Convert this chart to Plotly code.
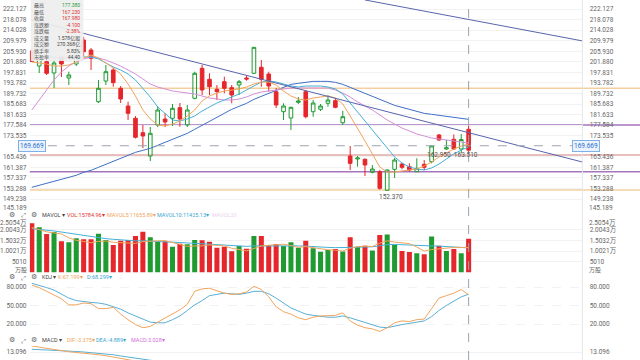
import plotly.graph_objects as go

# ---------------- data ----------------
opens = [206.00, 200.26, 201.91, 197.58, 203.70, 195.66, 201.03, 210.24, 206.40, 186.57,
         194.51, 198.73, 191.71, 184.92, 180.20, 174.68, 165.74, 177.63, 179.93, 180.20,
         184.27, 177.63, 187.87, 199.38, 195.16, 191.33, 194.24, 191.94, 192.97, 195.66,
         197.46, 199.77, 197.19, 190.41, 182.73, 180.32, 186.34, 190.41, 182.73, 183.65,
         185.96, 186.95, 178.51, 165.74, 164.59, 164.47, 159.49, 159.72, 152.60, 160.64,
         162.67, 161.64, 159.72, 162.55, 163.55, 173.80, 168.43, 172.15, 168.43, 175.98]
highs = [207.00, 205.60, 203.33, 202.56, 204.48, 198.08, 207.17, 211.50, 207.17, 194.89,
         200.65, 199.50, 192.59, 186.57, 181.08, 177.63, 176.86, 184.92, 182.22, 185.69,
         186.07, 185.30, 198.08, 200.65, 197.46, 192.97, 196.16, 192.97, 194.89, 196.43,
         207.55, 202.56, 198.08, 191.82, 185.96, 184.65, 188.37, 191.06, 187.22, 185.69,
         189.14, 187.87, 183.12, 169.58, 165.74, 164.86, 162.29, 160.37, 160.60, 164.97,
         163.17, 162.94, 164.86, 164.20, 169.96, 174.18, 171.88, 173.99, 174.18, 177.38]
lows = [201.80, 197.58, 196.81, 191.82, 196.04, 192.97, 200.26, 203.83, 198.73, 186.07,
        192.97, 192.32, 186.07, 179.55, 172.45, 168.81, 163.82, 176.86, 176.86, 177.24,
        176.98, 176.86, 187.49, 189.14, 189.14, 187.22, 189.79, 185.96, 189.14, 194.62,
        197.19, 192.32, 190.41, 184.15, 179.55, 175.71, 185.69, 180.20, 180.81, 183.00,
        184.65, 184.04, 177.63, 160.37, 161.63, 158.07, 159.10, 152.80, 152.37, 157.30,
        160.64, 159.72, 159.72, 160.37, 162.94, 171.50, 168.04, 168.04, 166.78, 167.23]
closes = [202.00, 204.10, 197.46, 201.41, 201.03, 196.81, 205.63, 205.75, 203.22, 191.71,
          198.08, 193.86, 187.61, 182.12, 172.91, 173.41, 174.45, 183.38, 178.78, 184.04,
          179.93, 183.38, 197.46, 191.06, 192.32, 190.41, 191.71, 189.14, 194.24, 195.28,
          207.43, 195.16, 192.59, 185.30, 184.92, 184.42, 186.84, 180.81, 186.07, 184.92,
          187.22, 184.42, 180.81, 162.93, 164.97, 162.29, 160.75, 153.35, 160.37, 164.20,
          161.40, 160.37, 161.02, 161.40, 169.58, 171.88, 168.93, 168.43, 172.08, 167.98]

ma5 = [201.80, 201.41, 201.03, 200.26, 200.26, 200.65, 201.80, 203.33, 204.48, 203.33,
       201.41, 199.50, 197.19, 193.36, 188.76, 183.38, 179.93, 177.63, 177.24, 178.01,
       179.17, 181.08, 183.38, 186.84, 188.76, 189.90, 190.67, 191.06, 191.44, 192.21,
       193.36, 194.12, 194.12, 192.97, 190.67, 188.76, 187.61, 187.22, 187.99, 188.37,
       188.76, 187.99, 185.69, 181.08, 176.48, 171.50, 166.51, 161.52, 159.60, 159.60,
       159.99, 160.37, 160.75, 161.90, 163.44, 165.36, 166.89, 168.43, 169.58, 170.35]
ma10 = [204.10, 204.10, 203.71, 203.71, 203.33, 203.33, 203.33, 203.71, 203.71, 202.95,
        201.41, 199.88, 198.73, 197.19, 194.89, 191.82, 188.37, 184.54, 181.85, 179.55,
        179.17, 179.93, 181.08, 183.00, 184.54, 186.07, 187.22, 188.37, 189.52, 191.06,
        192.59, 194.12, 194.51, 194.12, 193.36, 192.59, 192.21, 192.59, 192.59, 192.59,
        192.21, 191.44, 189.52, 186.07, 182.62, 179.17, 175.71, 171.88, 168.43, 165.36,
        163.05, 161.52, 160.75, 160.37, 161.14, 162.67, 164.59, 166.51, 168.04, 169.19]
ma20 = [183.38, 187.22, 191.06, 194.89, 197.96, 200.26, 201.80, 202.95, 203.71, 203.33,
        202.56, 201.41, 200.26, 198.73, 197.19, 195.28, 193.36, 192.21, 191.44, 190.67,
        190.29, 189.90, 189.52, 188.76, 187.99, 187.61, 187.22, 187.22, 187.61, 188.37,
        189.52, 190.29, 190.67, 191.06, 191.44, 191.82, 191.82, 191.82, 191.82, 191.82,
        191.82, 191.06, 189.90, 188.37, 186.45, 184.92, 183.38, 181.47, 179.55, 178.01,
        176.48, 175.33, 174.18, 173.41, 172.65, 172.26, 171.88, 171.50, 171.11, 170.73]
ma60 = [153.73, 154.50, 155.27, 156.03, 156.80, 157.57, 158.33, 159.48, 160.25, 161.40,
        162.55, 163.70, 164.85, 166.00, 167.15, 167.92, 168.68, 169.83, 170.98, 172.13,
        173.28, 174.43, 175.97, 177.50, 179.03, 180.57, 182.10, 183.64, 184.79, 185.94,
        187.47, 188.62, 189.77, 190.92, 192.07, 193.22, 193.61, 193.99, 194.37, 194.37,
        194.37, 193.99, 193.22, 192.07, 190.92, 189.77, 188.62, 187.47, 186.32, 185.17,
        184.40, 183.64, 182.87, 182.10, 181.72, 181.33, 180.95, 180.57, 180.18, 179.80]

volume = [22990, 21120, 17980, 18920, 14560, 14100, 15970, 15500, 15500, 18120,
          15170, 12830, 14850, 15170, 17050, 19060, 16440, 14380, 14560, 12040,
          13440, 13160, 15170, 15030, 14380, 11570, 12040, 9880, 12360, 11100,
          17050, 17050, 12690, 13300, 12360, 14100, 11570, 14850, 11290, 9690,
          10500, 11000, 9800, 16500, 12000, 12500, 10200, 17500, 17800, 13000,
          10000, 9500, 9000, 8500, 16800, 12500, 10000, 11000, 9000, 15785]
mavol5 = [21000, 20000, 19000, 18500, 18000, 16200, 15000, 14500, 13900, 14500,
          14700, 14100, 14000, 13800, 13600, 14400, 14700, 14800, 14900, 14000,
          12900, 12200, 12400, 12400, 12900, 12600, 12400, 11300, 10700, 10100,
          11200, 12400, 12700, 13000, 13200, 12600, 11700, 12100, 11500, 11000,
          10600, 10400, 10000, 11300, 12000, 12300, 12100, 13700, 14800, 14200,
          13700, 13500, 11900, 10000, 10700, 11100, 11300, 11700, 11700, 11656]
mavol10 = [20500, 20200, 19800, 19400, 18900, 18400, 17800, 17200, 16600, 16200,
           15800, 15500, 15200, 15000, 14800, 14800, 14700, 14600, 14400, 14200,
           14000, 13800, 13600, 13400, 13200, 13000, 12800, 12500, 12300, 12200,
           12400, 12500, 12500, 12400, 12400, 12500, 12400, 12300, 12000, 11800,
           11700, 11600, 11500, 11700, 11800, 11900, 12000, 12500, 13000, 13100,
           12900, 12800, 12500, 12300, 12400, 12300, 12200, 12000, 11700, 11425]

k_vals = [83, 79, 73, 67, 61, 51, 51, 54, 53, 45, 45, 47, 36, 27, 19, 14, 16, 23, 30, 37,
          43, 52, 73, 77, 78, 74, 70, 68, 69, 72, 81, 76, 64, 48, 40, 36, 30, 27, 31, 33,
          33, 34, 38, 25, 18, 14, 12, 8, 14, 22, 25, 24, 27, 28, 45, 62, 66, 70, 76, 67.199]
d_vals = [86, 83, 79, 75, 69, 62, 58, 56, 55, 54, 52, 48, 44, 38, 33, 27, 23, 22, 22, 27,
          33, 42, 51, 58, 66, 68, 70, 69, 68, 70, 73, 73, 69, 62, 54, 46, 41, 36, 34, 32,
          31, 31, 33, 30, 26, 22, 18, 15, 14, 17, 19, 21, 23, 25, 32, 42, 50, 57, 64, 68.299]
dif = [15.5, 15.0, 14.5, 14.0, 13.6, 13.2, 12.9, 12.7, 12.5, 12.0, 11.6, 11.0, 10.3, 9.5, 8.3,
       7.0, 5.9, 5.4, 4.9, 4.6, 4.2, 4.1, 4.6, 4.7, 4.8, 4.6, 4.5, 4.2, 4.1, 4.0,
       4.6, 4.5, 4.1, 3.4, 2.8, 2.2, 1.9, 1.3, 1.0, 0.7, 0.6, 0.3, -0.3, -2.0, -3.2,
       -4.3, -5.3, -6.6, -7.0, -6.9, -6.8, -6.7, -6.5, -6.2, -5.4, -4.5, -4.0, -3.6, -3.0, -3.375]
dea = [14.2, 14.1, 14.0, 13.9, 13.7, 13.5, 13.3, 13.1, 12.9, 12.7, 12.4, 12.0, 11.5, 10.9, 10.3,
       9.6, 8.9, 8.2, 7.6, 7.0, 6.5, 6.0, 5.7, 5.5, 5.3, 5.1, 5.0, 4.8, 4.7, 4.6,
       4.6, 4.6, 4.5, 4.3, 4.0, 3.6, 3.3, 2.9, 2.5, 2.2, 1.9, 1.6, 1.2, 0.5, -0.3,
       -1.1, -2.0, -2.9, -3.7, -4.3, -4.8, -5.2, -5.5, -5.7, -5.8, -5.7, -5.5, -5.3, -5.0, -4.889]

price_ticks = [222.127, 218.078, 214.028, 209.979, 205.930, 201.880, 197.831, 193.782,
               189.732, 185.683, 181.633, 177.584, 173.535, 165.436, 161.387, 157.337,
               153.288, 149.238]
price_edge_label = "145.189"
vol_ticks = [5010, 10021, 15032, 20043]
vol_tick_text = ["5010", "1.0021万", "1.5032万", "2.0043万"]
vol_edge_label = "2.5054万"
kdj_ticks = [20, 50, 80]
kdj_tick_text = ["20.000", "50.000", "80.000"]
macd_ticks = [13.096]
macd_tick_text = ["13.096"]

cross_price = 169.669
cross_index = 59
levels = [191.71, 177.63, 166.13, 159.72, 152.70]
level_colors = ["#f3cf9f", "#a574bd", "#e1aaa6", "#a574bd", "#f3cf9f"]
trend_lines = [(0, 217.9, 78.5, 160.4), (45, 225.6, 82, 205.8)]

tooltip_labels = ["最高", "最低", "收盘", "涨跌额", "涨跌幅", "成交量", "成交额", "换手率", "市盈率"]
tooltip_values = ["177.380", "167.230", "167.980", "-4.100", "-2.38%", "1.578亿股", "270.368亿", "5.83%", "44.40"]
tooltip_colors = ["#1f9e3a", "#e2312f", "#e2312f", "#e2312f", "#e2312f", "#444", "#444", "#444", "#444"]

# ---------------- styling constants ----------------
W, H = 640, 360
RED = "#e5262b"
GREEN = "#1f9b32"
FONT = "Roboto, Noto Sans CJK SC, sans-serif"
XL, XR = 26, 582
SLOT = 7.45
x_idx = list(range(len(closes)))
x_range = [(XL - 28) / SLOT, (XR - 28) / SLOT]

def dom(top_px, bot_px):
    return [1 - bot_px / H, 1 - top_px / H]

PPX = 2.607
main_top, main_bot = 0, 210
main_range = [222.127 - (main_bot - 9) / PPX, 222.127 + (9 - main_top) / PPX]
vol_top, vol_bot = 220, 272.4
VPX = 10.7 / 5011
vol_range = [0, (vol_bot - vol_top) / VPX]
kdj_top, kdj_bot = 282, 334
KPX = 37 / 60
kdj_range = [80 - (kdj_bot - 287) / KPX, 80 + (287 - kdj_top) / KPX]
macd_top, macd_bot = 346, 360
MPX = 2.5
macd_range = [13.096 - (macd_bot - 352) / MPX, 13.096 + (352 - macd_top) / MPX]

fig = go.Figure()

for vals, col in [(ma60, "#3f6fc6"), (ma20, "#d48ed6"), (ma10, "#45b0d8"), (ma5, "#f0a45c")]:
    fig.add_trace(go.Scatter(x=x_idx, y=vals, mode="lines", line=dict(color=col, width=1),
                             xaxis="x", yaxis="y", hoverinfo="skip", showlegend=False))

fig.add_trace(go.Candlestick(x=x_idx, open=opens, high=highs, low=lows, close=closes,
                             increasing=dict(line=dict(color=GREEN, width=1), fillcolor="rgba(255,255,255,0)"),
                             decreasing=dict(line=dict(color=RED, width=1), fillcolor=RED),
                             whiskerwidth=0, xaxis="x", yaxis="y", hoverinfo="skip", showlegend=False))

vcols = [GREEN if c >= o else RED for o, c in zip(opens, closes)]
fig.add_trace(go.Bar(x=x_idx, y=volume, marker=dict(color=vcols, line=dict(width=0)), width=0.68,
                     xaxis="x2", yaxis="y3", hoverinfo="skip", showlegend=False))
fig.add_trace(go.Scatter(x=x_idx, y=mavol10, mode="lines", line=dict(color="#45b0d8", width=1),
                         xaxis="x2", yaxis="y3", hoverinfo="skip", showlegend=False))
fig.add_trace(go.Scatter(x=x_idx, y=mavol5, mode="lines", line=dict(color="#f0a45c", width=1),
                         xaxis="x2", yaxis="y3", hoverinfo="skip", showlegend=False))
fig.add_trace(go.Scatter(x=x_idx, y=d_vals, mode="lines", line=dict(color="#5aaed6", width=1),
                         xaxis="x3", yaxis="y5", hoverinfo="skip", showlegend=False))
fig.add_trace(go.Scatter(x=x_idx, y=k_vals, mode="lines", line=dict(color="#f0a45c", width=1),
                         xaxis="x3", yaxis="y5", hoverinfo="skip", showlegend=False))
fig.add_trace(go.Scatter(x=x_idx, y=dea, mode="lines", line=dict(color="#5aaed6", width=1),
                         xaxis="x4", yaxis="y7", hoverinfo="skip", showlegend=False))
fig.add_trace(go.Scatter(x=x_idx, y=dif, mode="lines", line=dict(color="#f0a45c", width=1),
                         xaxis="x4", yaxis="y7", hoverinfo="skip", showlegend=False))

for ya, xa, rng in [("y2", "x", main_range), ("y4", "x2", vol_range), ("y6", "x3", kdj_range), ("y8", "x4", macd_range)]:
    fig.add_trace(go.Scatter(x=[0], y=[(rng[0] + rng[1]) / 2], mode="markers", marker=dict(opacity=0),
                             xaxis=xa, yaxis=ya, hoverinfo="skip", showlegend=False))

TICKSIZE = 6.5
tickfont = dict(family=FONT, size=TICKSIZE, color="#666")
xd = [XL / W, XR / W]
def xax(anchor):
    return dict(domain=xd, range=x_range, showticklabels=False, showgrid=False, zeroline=False,
                anchor=anchor, fixedrange=True, rangeslider=dict(visible=False))

def yax(domain, rng, tv, tt, side, overlay=None, grid=True, griddash="solid"):
    d = dict(domain=domain, range=rng, tickvals=tv, ticktext=tt, side=side, tickfont=tickfont,
             showgrid=grid, gridcolor="#f2f2f2", griddash=griddash, gridwidth=1, zeroline=False,
             ticks="outside", ticklen=5 if side == "right" else 1, tickcolor="rgba(0,0,0,0)",
             fixedrange=True, showline=False)
    if overlay:
        d["overlaying"] = overlay
        d["showgrid"] = False
    return d

pt_text = [f"{v:.3f}" for v in price_ticks]
fig.update_layout(
    width=W, height=H, margin=dict(l=0, r=0, t=0, b=0),
    paper_bgcolor="white", plot_bgcolor="white", showlegend=False,
    font=dict(family=FONT, size=7, color="#666"),
    xaxis=xax("y"), xaxis2=dict(xax("y3"), matches="x"), xaxis3=dict(xax("y5"), matches="x"),
    xaxis4=dict(xax("y7"), matches="x"),
    yaxis=yax(dom(main_top, main_bot), main_range, price_ticks, pt_text, "left"),
    yaxis2=dict(yax(dom(main_top, main_bot), main_range, price_ticks, pt_text, "right", overlay="y"), anchor="x"),
    yaxis3=yax(dom(vol_top, vol_bot), vol_range, vol_ticks, vol_tick_text, "left"),
    yaxis4=dict(yax(dom(vol_top, vol_bot), vol_range, vol_ticks, vol_tick_text, "right", overlay="y3"), anchor="x2"),
    yaxis5=yax(dom(kdj_top, kdj_bot), kdj_range, kdj_ticks, kdj_tick_text, "left", griddash="dash"),
    yaxis6=dict(yax(dom(kdj_top, kdj_bot), kdj_range, kdj_ticks, kdj_tick_text, "right", overlay="y5"), anchor="x3"),
    yaxis7=yax(dom(macd_top, macd_bot), macd_range, macd_ticks, macd_tick_text, "left"),
    yaxis8=dict(yax(dom(macd_top, macd_bot), macd_range, macd_ticks, macd_tick_text, "right", overlay="y7"), anchor="x4"),
)

shapes = []
for lv, col in zip(levels, level_colors):
    shapes.append(dict(type="line", xref="paper", yref="y", x0=XL / W, x1=1, y0=lv, y1=lv,
                       line=dict(color=col, width=1.5), layer="below"))
for (xa, ya, xb, yb) in trend_lines:
    shapes.append(dict(type="line", xref="x", yref="y", x0=xa, y0=ya, x1=xb, y1=yb,
                       line=dict(color="#5864ad", width=1)))
shapes.append(dict(type="line", xref="x", yref="paper", x0=cross_index, x1=cross_index, y0=0, y1=1,
                   line=dict(color="#9aa3ad", width=1, dash="dash")))
shapes.append(dict(type="line", xref="paper", yref="y", x0=XL / W, x1=XR / W, y0=cross_price, y1=cross_price,
                   line=dict(color="#9aa3ad", width=1, dash="dash")))
shapes.append(dict(type="line", xref="paper", yref="paper", x0=XR / W, x1=XR / W, y0=0, y1=1,
                   line=dict(color="#e6e6e6", width=1)))
shapes.append(dict(type="rect", xref="paper", yref="paper", x0=27 / W, x1=80 / W, y0=1 - 61 / H, y1=1,
                   fillcolor="rgba(238,238,238,0.92)", line=dict(width=0)))
fig.update_layout(shapes=shapes)

ann = []
def label(xpx, ypx, text, anchor="left", size=TICKSIZE, color="#666"):
    return dict(xref="paper", yref="paper", x=xpx / W, y=1 - ypx / H, text=text, showarrow=False,
                xanchor=anchor, yanchor="middle", borderpad=0, font=dict(family=FONT, size=size, color=color))

for xpx in (14.5, 600):
    ann.append(dict(xref="paper", yref="y", x=xpx / W, y=cross_price, text="169.669", showarrow=False,
                    font=dict(family=FONT, size=TICKSIZE, color="#2f6fd0"), bgcolor="#eaf2fc", bordercolor="#7fb0ea",
                    borderwidth=1, borderpad=1))
ann.append(label(24.5, 208, price_edge_label, "right"))
ann.append(label(588, 208, price_edge_label, "left"))
ann.append(label(24.5, 222.5, vol_edge_label, "right"))
ann.append(label(588, 222.5, vol_edge_label, "left"))
ann.append(label(24.5, 270.2, "万股", "right", 6))
ann.append(label(588, 270.2, "万股", "left", 6))

ann.append(dict(xref="paper", yref="paper", x=29 / W, y=1 - 0.5 / H, text="<br>".join(tooltip_labels),
                showarrow=False, xanchor="left", yanchor="top", align="left", borderpad=0,
                font=dict(family=FONT, size=5, color="#555")))
val_txt = "<br>".join(f"<span style='color:{c}'>{v}</span>" for v, c in zip(tooltip_values, tooltip_colors))
ann.append(dict(xref="paper", yref="paper", x=78 / W, y=1 - 0.5 / H, text=val_txt,
                showarrow=False, xanchor="right", yanchor="top", align="right", borderpad=0,
                font=dict(family=FONT, size=5, color="#444")))

ann.append(dict(xref="x", yref="y", x=48.5, y=152.37, text="152.370", showarrow=False, yanchor="top",
                yshift=-1, borderpad=0, font=dict(family=FONT, size=6.5, color="#555")))
ann.append(dict(xref="x", yref="y", x=56.8, y=166.13, text="162.950  163.510", showarrow=False, yanchor="middle",
                borderpad=0, font=dict(family=FONT, size=6.5, color="#555")))

def toolbar(ypx, items):
    out = [label(8, ypx, "⚙", "center", 6.5, "#666"), label(19.5, ypx, "⤢", "center", 6, "#666"),
           label(30.5, ypx, "⚙", "center", 6.5, "#666")]
    for xpx, txt, col in items:
        out.append(label(xpx, ypx, txt, "left", 5.5, col))
    return out

ann += toolbar(214.5, [(37, "MAVOL ▾", "#444"), (62, "VOL:15784.96▾", "#e2312f"),
                       (103, "MAVOL5:11655.89▾", "#f0a45c"), (153, "MAVOL10:11425.13▾", "#3aa6d0"),
                       (208, "MAVOL20", "#f0d0ee")])
ann += toolbar(277, [(37, "KDJ ▾", "#444"), (53, "K:67.199▾", "#f0a45c"), (83, "D:68.299▾", "#3aa6d0"),
                     (115, "J", "#e8e8e8")])
ann += toolbar(340, [(37, "MACD ▾", "#444"), (62, "DIF:-3.375▾", "#f0a45c"), (92, "DEA:-4.889▾", "#3aa6d0"),
                     (127, "MACD:3.028▾", "#d070d8")])
fig.update_layout(annotations=ann)

fig.write_html("out.html")
